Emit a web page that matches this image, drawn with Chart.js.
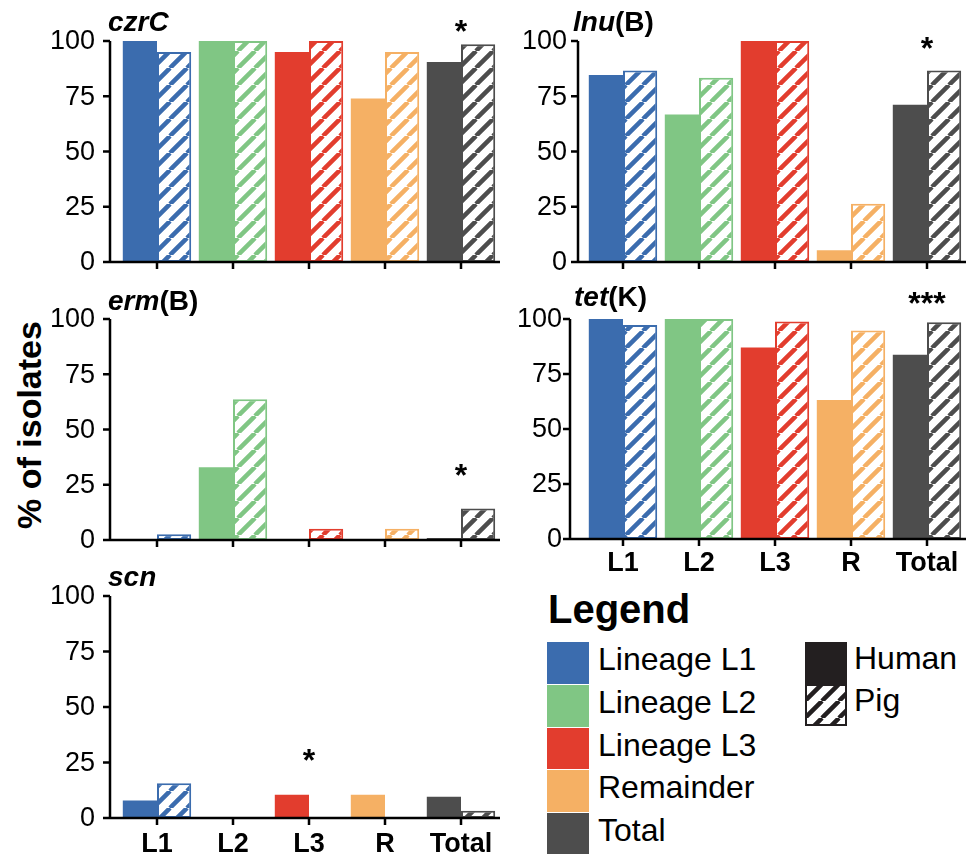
<!DOCTYPE html>
<html>
<head>
<meta charset="utf-8">
<script src="https://cdn.jsdelivr.net/npm/chart.js@4.4.1/dist/chart.umd.min.js"></script>
<style>
  body { margin: 0; background: #fff; font-family: "Liberation Sans", Arial, sans-serif; }
  #wrap { position: relative; width: 969px; height: 854px; overflow: hidden; }
  canvas.panel { position: absolute; }
  .title { position: absolute; font-weight: bold; font-size: 28px; line-height: 1; white-space: nowrap; }
  .title i { font-style: italic; }
  #ylabel { position: absolute; left: 29px; top: 425px; font-weight: bold; font-size: 34px; line-height: 1;
            white-space: nowrap; transform: translate(-50%, -50%) rotate(-90deg); }
  .lg-title { position: absolute; font-weight: bold; font-size: 40px; line-height: 1; }
  .lg-box { position: absolute; width: 42px; height: 42px; }
  .lg-text { position: absolute; font-size: 32px; line-height: 1; white-space: nowrap; }
</style>
</head>
<body>
<div id="wrap">
  <div id="ylabel">% of isolates</div>
</div>
<script>
const categories = ['L1', 'L2', 'L3', 'R', 'Total'];
const lineageNames = ['Lineage L1', 'Lineage L2', 'Lineage L3', 'Remainder', 'Total'];
const hostNames = ['Human', 'Pig'];
const yTicks = [0, 25, 50, 75, 100];

// % of isolates carrying each gene, per lineage
const czrCHuman = [100, 100, 95, 74, 90.5];
const czrCPig = [95, 100, 100, 95, 98.5];
const lnuBHuman = [84.6, 66.7, 100, 5.3, 71.2];
const lnuBPig = [86.7, 83.4, 100, 26.4, 86.7];
const ermBHuman = [0, 32.9, 0, 0, 0.9];
const ermBPig = [2.6, 63.7, 5.1, 5.1, 14.2];
const tetKHuman = [100, 100, 87, 63.2, 83.8];
const tetKPig = [97.3, 100, 98.9, 94.8, 98.5];
const scnHuman = [7.9, 0, 10.5, 10.5, 9.6];
const scnPig = [15.7, 0, 0, 0, 3.3];

// significance marks (category, height in % units)
const czrCStars = [{ cat: 'Total', y: 107, text: '*' }];
const lnuBStars = [{ cat: 'Total', y: 99, text: '*' }];
const ermBStars = [{ cat: 'Total', y: 31.7, text: '*' }];
const tetKStars = [{ cat: 'Total', y: 109.5, text: '***' }];
const scnStars = [{ cat: 'L3', y: 28.4, text: '*' }];

const colors = ['#3B6CAE', '#80C684', '#E23D2E', '#F5B064', '#4D4D4D'];
const hostColor = '#231F20';
const FONT = '"Liberation Sans", Arial, sans-serif';

// box = canvas [left, top, width, height], area = plot area [left, top, right, bottom], page px
const panels = [
  { title: '<i>czrC</i>', human: czrCHuman, pig: czrCPig, stars: czrCStars,
    box: [0, 0, 505, 280], area: [119, 41, 499, 262], axisX: 110, labelRight: 95, showX: false, tx: 108, tb: 32 },
  { title: '<i>lnu</i>(B)', human: lnuBHuman, pig: lnuBPig, stars: lnuBStars,
    box: [490, 0, 479, 280], area: [585, 41, 965, 262], axisX: 578, labelRight: 567, showX: false, tx: 573, tb: 32 },
  { title: '<i>erm</i>(B)', human: ermBHuman, pig: ermBPig, stars: ermBStars,
    box: [0, 280, 505, 290], area: [119, 319, 499, 540], axisX: 110, labelRight: 95, showX: false, tx: 108, tb: 311 },
  { title: '<i>tet</i>(K)', human: tetKHuman, pig: tetKPig, stars: tetKStars,
    box: [490, 280, 479, 300], area: [585, 319, 965, 539], axisX: 570, labelRight: 562, showX: true, xPad: 8, tx: 574, tb: 307 },
  { title: '<i>scn</i>', human: scnHuman, pig: scnPig, stars: scnStars,
    box: [0, 570, 505, 284], area: [119, 596, 499, 818], axisX: 110, labelRight: 95, showX: true, xPad: 10, tx: 108, tb: 587 }
];

function stripes(color) {
  const s = 17, c = document.createElement('canvas');
  c.width = c.height = s;
  const g = c.getContext('2d');
  g.fillStyle = '#fff';
  g.fillRect(0, 0, s, s);
  g.strokeStyle = color;
  g.lineWidth = 4.5;
  g.beginPath();
  for (let k = -1; k <= 1; k++) {
    g.moveTo(k * s, s);
    g.lineTo(k * s + s, 0);
  }
  g.stroke();
  return g.createPattern(c, 'repeat');
}

// axis lines, tick marks, y labels and significance stars
const axesPlugin = {
  id: 'panelAxes',
  afterDraw(chart, args, opts) {
    const { ctx, chartArea } = chart;
    const x = chart.scales.x, y = chart.scales.y;
    const ax = opts.axisX;
    const y0 = y.getPixelForValue(0);
    ctx.save();
    ctx.strokeStyle = '#000';
    ctx.lineWidth = 2.5;
    ctx.beginPath();
    ctx.moveTo(ax, y.getPixelForValue(100));
    ctx.lineTo(ax, y0);
    yTicks.forEach(v => {
      const py = y.getPixelForValue(v);
      ctx.moveTo(ax - 7, py);
      ctx.lineTo(ax, py);
    });
    ctx.moveTo(ax - 7, y0);
    ctx.lineTo(chartArea.right + 1, y0);
    categories.forEach((c, i) => {
      const px = x.getPixelForValue(i);
      ctx.moveTo(px, y0);
      ctx.lineTo(px, y0 + 7);
    });
    ctx.stroke();

    ctx.fillStyle = '#000';
    ctx.font = '27px ' + FONT;
    ctx.textAlign = 'right';
    ctx.textBaseline = 'middle';
    yTicks.forEach(v => ctx.fillText(String(v), opts.labelRight, y.getPixelForValue(v) + 1));

    ctx.font = 'bold 32px ' + FONT;
    ctx.textAlign = 'center';
    ctx.textBaseline = 'alphabetic';
    opts.stars.forEach(s => {
      const px = x.getPixelForValue(categories.indexOf(s.cat));
      ctx.fillText(s.text, px, y.getPixelForValue(s.y) + 16);
    });
    ctx.restore();
  }
};

const wrap = document.getElementById('wrap');

panels.forEach(p => {
  const [bL, bT, bW, bH] = p.box;
  const [aL, aT, aR, aB] = p.area;
  const cv = document.createElement('canvas');
  cv.className = 'panel';
  cv.width = bW;
  cv.height = bH;
  cv.style.left = bL + 'px';
  cv.style.top = bT + 'px';
  cv.style.width = bW + 'px';
  cv.style.height = bH + 'px';
  wrap.appendChild(cv);

  const t = document.createElement('div');
  t.className = 'title';
  t.innerHTML = p.title;
  t.style.left = p.tx + 'px';
  t.style.top = (p.tb - 0.8465 * 28) + 'px';
  wrap.appendChild(t);

  new Chart(cv, {
    type: 'bar',
    data: {
      labels: categories,
      datasets: [
        { label: hostNames[0], data: p.human, backgroundColor: colors, borderWidth: 0,
          categoryPercentage: 0.9, barPercentage: 1 },
        { label: hostNames[1], data: p.pig, backgroundColor: colors.map(stripes), borderColor: colors,
          borderWidth: 2, borderSkipped: false, categoryPercentage: 0.9, barPercentage: 1 }
      ]
    },
    options: {
      responsive: false,
      animation: false,
      layout: { padding: { top: aT - bT, right: bL + bW - aR, left: 0, bottom: 0 } },
      plugins: {
        legend: { display: false },
        tooltip: { enabled: false },
        panelAxes: { axisX: p.axisX - bL, labelRight: p.labelRight - bL, stars: p.stars }
      },
      scales: {
        x: {
          grid: { display: false, drawTicks: false },
          border: { display: false },
          ticks: { display: p.showX, color: '#000', padding: p.xPad || 0, maxRotation: 0, autoSkip: false,
                   font: { family: FONT, size: 27, weight: 'bold' } },
          afterFit: s => { s.height = bT + bH - aB; }
        },
        y: {
          min: 0,
          max: 100,
          grid: { display: false, drawTicks: false },
          border: { display: false },
          ticks: { display: false },
          afterFit: s => { s.width = aL - bL; }
        }
      }
    },
    plugins: [axesPlugin]
  });
});

// legend
function addDiv(cls, left, top, html, extra) {
  const d = document.createElement('div');
  d.className = cls;
  d.style.left = left + 'px';
  d.style.top = top + 'px';
  d.innerHTML = html;
  if (extra) Object.assign(d.style, extra);
  wrap.appendChild(d);
  return d;
}

addDiv('lg-title', 548, 623 - 0.8465 * 40, 'Legend');
lineageNames.forEach((name, i) => {
  const top = 642 + i * 42.8;
  addDiv('lg-box', 547, top, '', { background: colors[i], height: '41.8px' });
  addDiv('lg-text', 598, top + 28 - 0.8465 * 32, name);
});
hostNames.forEach((name, i) => {
  const top = 642 + i * 42;
  if (i === 0) {
    addDiv('lg-box', 805, top, '', { background: hostColor });
  } else {
    const c = document.createElement('canvas');
    c.width = 42; c.height = 42;
    c.style.position = 'absolute';
    c.style.left = '805px';
    c.style.top = top + 'px';
    const g = c.getContext('2d');
    g.fillStyle = stripes(hostColor);
    g.fillRect(0, 0, 42, 42);
    g.strokeStyle = hostColor;
    g.lineWidth = 2;
    g.strokeRect(1, 1, 40, 40);
    wrap.appendChild(c);
  }
  addDiv('lg-text', 854, top + 27 - 0.8465 * 32, name);
});
</script>
</body>
</html>
